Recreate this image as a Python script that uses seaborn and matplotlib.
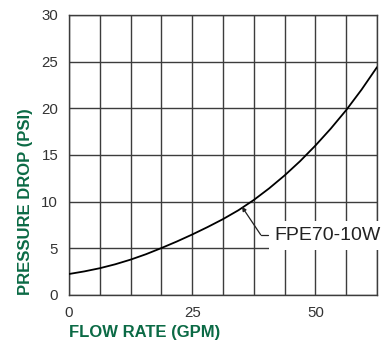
import numpy as np
import pandas as pd
import seaborn as sns
import matplotlib.pyplot as plt

# Pressure drop curve for the FPE70-10W
flow_gpm = [0, 3.125, 6.25, 9.375, 12.5, 15.625, 18.75, 21.875, 25, 28.125,
            31.25, 34.375, 37.5, 40.625, 43.75, 46.875, 50, 53.125, 56.25,
            59.375, 62.5]
pressure_psi = [2.25, 2.53, 2.87, 3.29, 3.79, 4.37, 5.03, 5.73, 6.48, 7.28,
                8.13, 9.08, 10.18, 11.43, 12.81, 14.33, 16.01, 17.83, 19.81,
                22.01, 24.41]
model_name = "FPE70-10W"

x_ticks = [0, 6.25, 12.5, 18.75, 25, 31.25, 37.5, 43.75, 50, 56.25, 62.5]
x_tick_labels = ["0", "", "", "", "25", "", "", "", "50", "", ""]
y_ticks = [0, 5, 10, 15, 20, 25, 30]
y_tick_labels = ["0", "5", "10", "15", "20", "25", "30"]

sns.set_style("white")
plt.rcParams["font.family"] = ["Liberation Sans", "DejaVu Sans"]

green = "#0b6a45"
grid_c = "#3c3c3c"

df = pd.DataFrame({"flow": flow_gpm, "pressure": pressure_psi})

fig = plt.figure(figsize=(3.91, 3.41), dpi=100)
ax = fig.add_axes([69 / 391, 46 / 341, 308 / 391, 280 / 341])

sns.lineplot(data=df, x="flow", y="pressure", ax=ax, color="black",
             linewidth=1.3, zorder=3)

ax.set_xlim(0, 62.5)
ax.set_ylim(0, 30)
ax.set_xticks(x_ticks)
ax.set_xticklabels(x_tick_labels)
ax.set_yticks(y_ticks)
ax.set_yticklabels(y_tick_labels)
ax.grid(True, color=grid_c, linewidth=1.0)
ax.set_axisbelow(True)
for s in ax.spines.values():
    s.set_visible(True)
    s.set_color(grid_c)
    s.set_linewidth(1.0)
ax.tick_params(axis="both", direction="out", length=4.3, width=1.0,
               color=grid_c, labelsize=10.8, labelcolor="#333333", pad=3.5)

ax.set_xlabel("FLOW RATE (GPM)", loc="left", color=green, fontsize=12,
              fontweight="bold", labelpad=4)
ax.set_ylabel("PRESSURE DROP (PSI)", loc="bottom", color=green, fontsize=12,
              fontweight="bold", labelpad=6)

# Callout label with leader to the curve
ax.text(41.7, 6.35, model_name, fontsize=14, color="#222222", va="center",
        ha="left", zorder=6, clip_on=False,
        bbox=dict(boxstyle="square,pad=0.3", facecolor="white",
                  edgecolor="none"))
ax.annotate("", xy=(35.1, 9.45), xytext=(38.9, 6.45),
            arrowprops=dict(arrowstyle="-|>", color="#222222", lw=0.9,
                            mutation_scale=6, shrinkA=0, shrinkB=0),
            zorder=7)
ax.plot([38.9, 40.4], [6.45, 6.45], color="#222222", lw=0.9, zorder=7)

fig.savefig("out.png", dpi=100)
